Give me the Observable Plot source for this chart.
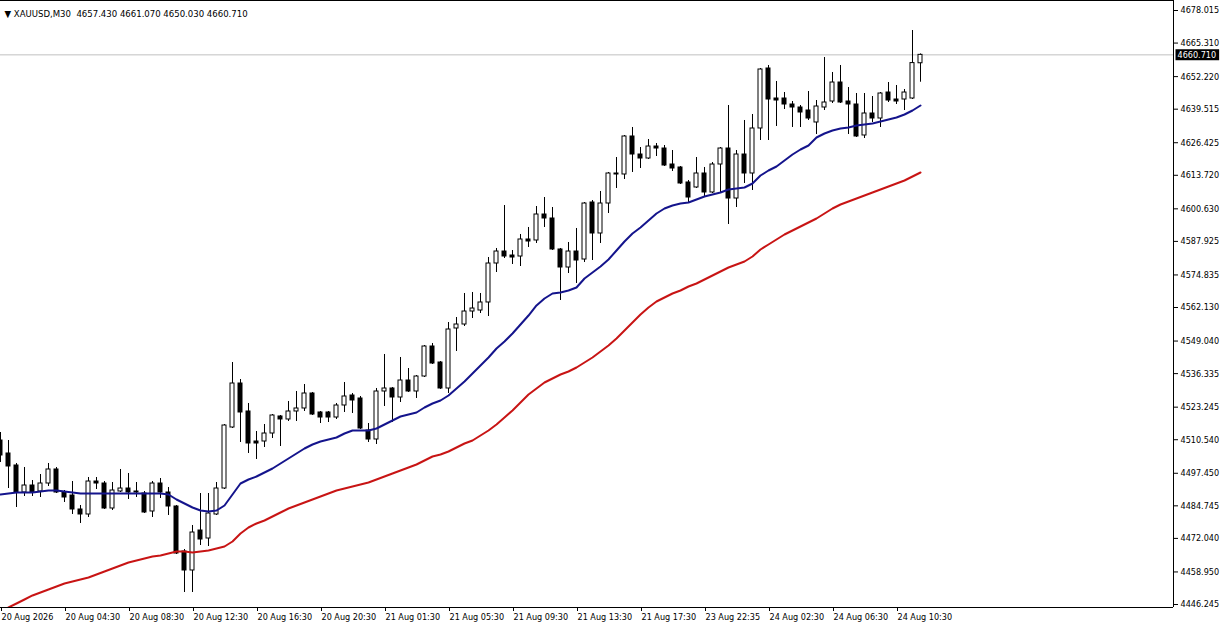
<!DOCTYPE html>
<html>
<head>
<meta charset="utf-8">
<script src="https://cdn.jsdelivr.net/npm/d3@7"></script>
<script src="https://cdn.jsdelivr.net/npm/@observablehq/plot@0.6"></script>
<style>
  html, body { margin: 0; padding: 0; background: #fff; }
  #chart { width: 1225px; height: 628px; overflow: hidden; }
</style>
</head>
<body>
<div id="chart"></div>
<script>
const symbolTitle = "▼ XAUUSD,M30";

const openP = [4510.24,4505.17,4500.49,4489.95,4492.68,4490.34,4493.46,4498.93,4489.95,4488.78,
4483.32,4481.37,4494.24,4493.46,4483.71,4490.34,4491.51,4490.34,4489.56,4482.54,
4493.46,4489.95,4484.49,4466.93,4459.52,4475.12,4472.00,4481.37,4491.51,4515.31,
4532.48,4521.56,4509.85,4509.85,4512.97,4519.61,4518.44,4521.56,4522.73,4528.58,
4521.17,4521.17,4519.21,4523.90,4527.80,4526.63,4514.14,4510.63,4529.36,4530.53,
4527.02,4533.65,4529.36,4535.21,4546.92,4540.67,4530.53,4553.94,4555.50,4560.57,
4560.96,4564.09,4579.30,4583.98,4582.42,4582.03,4588.67,4588.28,4598.42,4596.86,
4584.77,4577.74,4583.98,4580.86,4603.10,4591.01,4602.71,4614.03,4614.03,4628.86,
4621.83,4620.27,4624.95,4624.17,4617.93,4616.76,4610.91,4608.96,4614.42,4607.01,
4617.93,4624.17,4604.66,4621.83,4614.42,4631.98,4655.39,4643.68,4643.68,4641.34,
4640.17,4639.00,4634.32,4640.17,4642.51,4649.92,4642.51,4641.34,4629.25,4637.83,
4635.88,4646.02,4643.29,4643.29,4643.68,4657.43];

const highP = [4513.36,4510.24,4501.27,4499.71,4494.63,4496.97,4501.27,4499.71,4490.73,4494.24,
4484.88,4495.80,4495.80,4494.24,4493.85,4498.93,4497.37,4493.85,4490.34,4494.24,
4495.41,4491.90,4484.88,4467.71,4477.08,4489.56,4489.56,4493.85,4516.48,4540.67,
4534.04,4524.68,4513.75,4516.48,4520.38,4520.00,4525.46,4529.36,4532.09,4528.97,
4521.56,4521.56,4524.68,4532.87,4528.58,4527.41,4516.87,4530.53,4543.80,4530.92,
4542.63,4538.33,4535.60,4547.31,4548.09,4541.06,4556.28,4558.23,4567.60,4567.99,
4567.60,4581.64,4585.16,4601.93,4584.37,4590.62,4593.35,4601.54,4605.05,4601.15,
4585.16,4587.50,4592.96,4603.10,4603.88,4607.40,4614.81,4620.66,4629.25,4632.37,
4624.56,4627.68,4626.12,4625.34,4623.39,4617.15,4611.69,4620.66,4616.76,4618.71,
4624.56,4640.95,4623.39,4635.10,4637.44,4655.39,4656.56,4650.32,4646.02,4642.51,
4640.95,4646.41,4642.90,4659.68,4653.83,4656.56,4647.97,4645.63,4645.63,4644.46,
4646.02,4649.92,4648.75,4647.19,4670.21,4661.07];

const lowP = [4501.66,4491.51,4484.10,4488.39,4488.39,4488.00,4492.29,4489.56,4486.05,4481.37,
4477.86,4480.20,4491.12,4483.32,4482.93,4489.95,4487.22,4488.00,4481.76,4480.20,
4487.61,4480.98,4465.76,4450.93,4450.93,4469.27,4468.88,4480.98,4491.12,4514.92,
4509.46,4505.17,4502.83,4507.51,4511.02,4507.90,4517.65,4517.65,4521.56,4520.00,
4516.87,4517.26,4518.44,4521.17,4520.78,4514.53,4509.46,4508.68,4523.51,4517.26,
4525.07,4528.97,4526.63,4534.82,4539.89,4530.14,4528.58,4544.97,4554.72,4557.84,
4559.79,4558.62,4575.79,4581.25,4578.91,4578.13,4585.55,4587.11,4593.35,4584.37,
4564.87,4575.40,4571.50,4579.69,4580.47,4587.11,4598.81,4608.57,4612.08,4614.81,
4616.37,4619.88,4621.05,4617.15,4615.20,4610.13,4603.10,4608.57,4605.05,4606.62,
4606.62,4594.52,4601.15,4610.52,4607.79,4627.29,4627.29,4632.76,4639.39,4632.37,
4632.37,4635.10,4629.64,4639.00,4641.73,4641.73,4629.64,4628.47,4628.08,4634.32,
4632.37,4642.12,4641.34,4639.00,4643.29,4650.03];

const closeP = [4504.39,4500.10,4489.95,4492.68,4489.95,4493.46,4498.93,4489.95,4488.00,4483.32,
4481.37,4494.24,4493.46,4483.71,4490.73,4491.51,4489.95,4489.95,4482.15,4493.46,
4489.95,4484.49,4466.15,4459.52,4474.34,4471.61,4481.76,4491.51,4516.09,4532.48,
4521.17,4509.07,4509.07,4512.97,4520.00,4518.44,4521.56,4522.73,4528.58,4520.38,
4519.21,4519.21,4523.90,4527.41,4525.85,4514.92,4510.63,4529.36,4530.53,4527.02,
4533.65,4529.36,4535.21,4546.92,4540.28,4530.53,4553.55,4555.50,4560.57,4561.74,
4564.09,4579.30,4583.98,4582.03,4581.64,4588.67,4587.89,4598.42,4596.86,4584.77,
4577.74,4583.98,4580.47,4602.71,4591.01,4602.71,4614.42,4614.42,4628.86,4621.83,
4620.27,4624.95,4624.17,4617.54,4616.37,4610.52,4605.05,4614.42,4607.01,4617.93,
4624.17,4604.66,4621.83,4614.42,4631.98,4655.00,4643.29,4642.90,4641.34,4640.17,
4638.22,4635.88,4640.56,4642.12,4649.92,4642.12,4641.34,4628.86,4637.83,4635.88,
4645.63,4642.90,4642.51,4646.02,4657.50,4660.71];

const maFast = [4489.17,4489.56,4489.95,4489.95,4489.95,4490.34,4490.73,4490.73,4490.34,4489.95,
4489.56,4489.56,4489.56,4489.56,4489.56,4489.56,4489.56,4489.56,4489.56,4489.56,
4489.56,4489.17,4487.22,4485.66,4484.10,4482.93,4482.54,4482.93,4484.88,4489.17,
4493.46,4495.02,4496.19,4497.76,4499.32,4501.27,4503.22,4505.17,4507.12,4508.68,
4509.85,4510.63,4511.41,4512.97,4514.14,4514.14,4514.14,4514.92,4516.48,4518.04,
4519.61,4520.38,4521.17,4523.12,4524.68,4525.85,4527.80,4530.53,4533.26,4536.39,
4539.51,4542.63,4546.14,4548.87,4551.99,4555.50,4559.01,4562.92,4565.65,4567.60,
4567.99,4568.77,4569.94,4573.45,4575.79,4578.13,4580.86,4584.37,4587.89,4591.01,
4593.35,4596.08,4598.81,4600.76,4601.93,4602.71,4603.10,4604.27,4605.44,4606.23,
4607.01,4608.18,4608.57,4608.96,4610.52,4613.64,4615.59,4617.15,4619.49,4621.83,
4623.78,4625.34,4628.47,4630.03,4631.20,4631.98,4632.37,4633.15,4633.54,4633.93,
4634.71,4635.49,4636.27,4637.44,4639.00,4640.95];

const maSlow = [4443.52,4445.08,4446.64,4448.20,4449.77,4450.93,4452.11,4453.27,4454.44,4455.22,
4456.00,4456.78,4457.95,4459.13,4460.30,4461.47,4462.64,4463.42,4464.20,4464.98,
4465.37,4466.15,4466.93,4466.93,4466.54,4466.93,4467.32,4468.10,4468.88,4470.83,
4473.95,4476.30,4477.86,4479.03,4480.59,4482.15,4483.71,4484.88,4486.05,4487.22,
4488.39,4489.56,4490.73,4491.51,4492.29,4493.07,4493.85,4495.02,4496.19,4497.37,
4498.54,4499.71,4500.88,4502.44,4504.00,4504.78,4505.95,4507.51,4509.07,4510.24,
4512.19,4514.14,4516.48,4519.21,4521.95,4525.07,4528.19,4530.53,4532.87,4534.43,
4535.99,4537.16,4538.73,4540.67,4542.63,4544.97,4547.31,4550.04,4553.16,4556.28,
4559.40,4562.14,4564.48,4566.04,4567.60,4568.77,4570.33,4571.50,4573.06,4574.62,
4576.18,4577.74,4578.91,4580.08,4582.03,4584.77,4586.72,4588.67,4590.62,4592.18,
4593.74,4595.30,4596.86,4598.81,4600.76,4602.32,4603.49,4604.66,4605.83,4607.01,
4608.18,4609.35,4610.52,4611.69,4613.25,4614.81];

const xTickBars = [0,8,16,24,32,40,48,56,64,72,80,88,96,104,112];
const xTickLabels = ["20 Aug 2026","20 Aug 04:30","20 Aug 08:30","20 Aug 12:30","20 Aug 16:30",
  "20 Aug 20:30","21 Aug 01:30","21 Aug 05:30","21 Aug 09:30","21 Aug 13:30","21 Aug 17:30",
  "23 Aug 22:35","24 Aug 02:30","24 Aug 06:30","24 Aug 10:30"];

const yTicks = [4678.015,4665.310,4652.220,4639.515,4626.425,4613.720,4600.630,4587.925,4574.835,
  4562.130,4549.040,4536.335,4523.245,4510.540,4497.450,4484.745,4472.040,4458.950,4446.245];

const yDomain = [4445.08, 4681.92];
const xDomain = [0, 146.625];

const candles = openP.map((o, i) => ({i, o, h: highP[i], l: lowP[i], c: closeP[i]}));
const fastLine = maFast.map((v, i) => ({i, v}));
const slowLine = maSlow.map((v, i) => ({i, v}));
const last = candles[candles.length - 1];
const fmt = d => d.toFixed(3);
const titleText = `${symbolTitle}  ${fmt(last.o)} ${fmt(last.h)} ${fmt(last.l)} ${fmt(last.c)}`;

const FONT = "'DejaVu Sans Condensed', 'Liberation Sans', sans-serif";

const plot = Plot.plot({
  width: 1225,
  height: 628,
  marginLeft: 0,
  marginRight: 52,
  marginTop: 0,
  marginBottom: 21,
  style: {fontFamily: FONT, fontSize: "9px", background: "white", color: "black", overflow: "visible"},
  x: {domain: xDomain, label: null},
  y: {domain: yDomain, label: null},
  marks: [
    Plot.ruleY([last.c], {stroke: "#c0c0c0", strokeWidth: 1}),
    Plot.ruleX(candles, {x: "i", y1: "l", y2: "h", stroke: "black", strokeWidth: 1, clip: true}),
    Plot.rect(candles, {
      x1: d => d.i - 0.25, x2: d => d.i + 0.25,
      y1: "o", y2: "c",
      fill: d => d.c >= d.o ? "white" : "black",
      stroke: "black", strokeWidth: 1, clip: true
    }),
    Plot.line(slowLine, {x: "i", y: "v", stroke: "#c81414", strokeWidth: 2, clip: true}),
    Plot.line(fastLine, {x: "i", y: "v", stroke: "#14148c", strokeWidth: 2, clip: true}),
    Plot.axisY(yTicks, {anchor: "right", label: null, tickSize: 4, tickPadding: 3, tickFormat: fmt, fontSize: 9}),
    Plot.axisX(xTickBars, {anchor: "bottom", label: null, tickSize: 4, tickPadding: 2,
      tickFormat: d => xTickLabels[xTickBars.indexOf(d)], textAnchor: "start", dx: 1, fontSize: 9}),
    Plot.ruleX([xDomain[1]], {stroke: "black"}),
    Plot.ruleY([yDomain[0]], {stroke: "black"}),
    Plot.ruleY([yDomain[1]], {stroke: "black"}),
    Plot.text([last.c], {y: d => d, frameAnchor: "right", text: fmt, textAnchor: "start", dx: 4,
      fill: "white", fontSize: 9}),
    Plot.text([titleText], {frameAnchor: "top-left", text: d => d, textAnchor: "start", dx: 4, dy: 10,
      fill: "black", fontSize: 9.5})
  ]
});

document.getElementById("chart").appendChild(plot);

// black background box behind the current price tag
const priceStr = fmt(last.c);
const tag = Array.from(plot.querySelectorAll("text")).find(t =>
  t.textContent === priceStr && (t.getAttribute("fill") === "white" || (t.parentNode && t.parentNode.getAttribute("fill") === "white")));
if (tag) {
  const bb = tag.getBBox();
  const rect = document.createElementNS("http://www.w3.org/2000/svg", "rect");
  rect.setAttribute("x", bb.x - 2);
  rect.setAttribute("y", bb.y - 0.5);
  rect.setAttribute("width", bb.width + 5);
  rect.setAttribute("height", bb.height + 1);
  rect.setAttribute("fill", "black");
  const tr = tag.getAttribute("transform");
  if (tr) rect.setAttribute("transform", tr);
  tag.parentNode.insertBefore(rect, tag);
}
const tt = Array.from(plot.querySelectorAll("text")).find(t => t.textContent.startsWith("▼"));
if (tt) tt.setAttribute("style", "white-space: pre");
</script>
</body>
</html>
